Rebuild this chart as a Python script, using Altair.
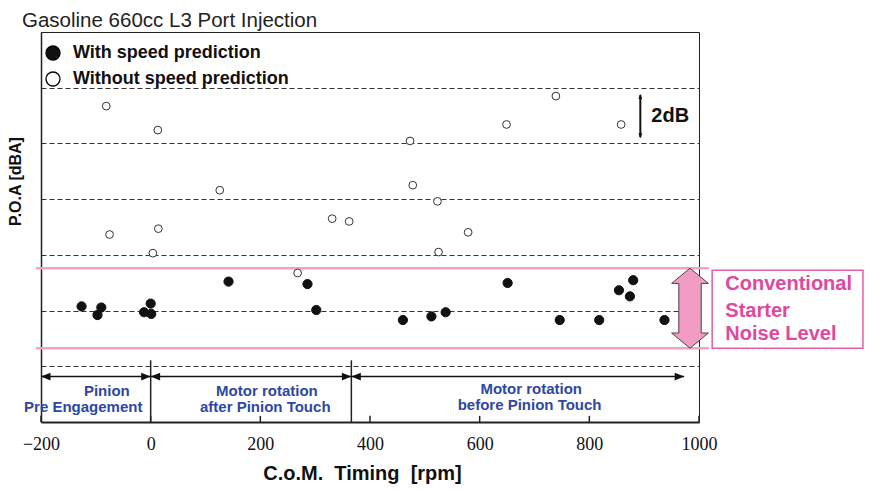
import altair as alt
import pandas as pd

# ---------------- data ----------------
series_names = ["With speed prediction", "Without speed prediction"]

with_x = [-126, -97, -90, -12, 0, 1, 142, 286, 302, 460, 512, 538, 651, 746, 818, 854, 880, 874, 937]
with_y = [2.15, 1.84, 2.11, 1.94, 2.25, 1.88, 3.04, 2.95, 2.02, 1.66, 1.79, 1.94, 2.99, 1.66, 1.66, 2.73, 3.09, 2.51, 1.66]

without_x = [-81, 13, 126, -75, 14, 4, 268, 331, 362, 473, 478, 523, 579, 525, 649, 739, 858]
without_y = [9.34, 8.48, 6.32, 4.73, 4.94, 4.06, 3.35, 5.30, 5.20, 8.09, 6.50, 5.92, 4.81, 4.10, 8.68, 9.70, 8.68]

x_ticks = [-200, 0, 200, 400, 600, 800, 1000]
grid_levels = [0, 2, 4, 6, 8, 10]
band_levels = [0.65, 3.52]            # conventional starter noise band
phase_bounds = [-200, 0, 366, 973]    # phase boundaries (rpm)
phase_top = ["Pinion", "Motor rotation", "Motor rotation"]
phase_bottom = ["Pre Engagement", "after Pinion Touch", "before Pinion Touch"]
phase_top_x = [-80, 212, 694]
phase_bottom_x = [-123, 209, 691]
phase_top_y = [-0.90, -0.90, -0.81]
phase_bottom_y = [-1.47, -1.47, -1.38]
band_text = ["Conventional", " Starter", "Noise Level"]
band_text_x = [1048, 1048, 1048]
band_text_y = [2.94, 1.98, 1.15]

# ---------------- styling ----------------
SANS = "Liberation Sans"
SERIF = "Liberation Serif"
PINK_LINE = "#F3A2C7"
PINK_FILL = "#F29CC3"
PINK_TEXT = "#E0489E"
BLUE = "#2D48A2"

xs = alt.Scale(domain=[-200, 1000], nice=False, zero=False)
ys = alt.Scale(domain=[-2, 12], nice=False, zero=False)

x_axis = alt.Axis(values=x_ticks, tickSize=0, labelPadding=13, labelFont=SERIF,
                  labelFontSize=18, labelColor="#111", domainColor="#222",
                  domainWidth=2, grid=False, format="d", labelFlush=False,
                  title="C.o.M.\u00a0 Timing\u00a0 [rpm]", titleFont=SANS,
                  titleFontSize=20, titleFontWeight="bold", titleColor="#111",
                  titleX=321, titleY=57, titleBaseline="alphabetic", titleAlign="center")
y_axis = alt.Axis(values=grid_levels, labels=False, ticks=False, domain=True,
                  domainColor="#222", domainWidth=1.5, grid=True, gridDash=[5, 3],
                  gridColor="#333", gridWidth=1,
                  title="P.O.A [dBA]", titleFont=SANS, titleFontSize=16,
                  titleFontWeight="bold", titleColor="#111", titleX=-26, titleY=149,
                  titleAngle=270, titleBaseline="middle", titleAlign="center")


def X(field="x"):
    return alt.X(f"{field}:Q", scale=xs, axis=x_axis)


def Y(field="y"):
    return alt.Y(f"{field}:Q", scale=ys, axis=y_axis)


fill_enc = alt.Fill(
    "series:N",
    scale=alt.Scale(domain=series_names, range=["#111", "white"]),
    legend=alt.Legend(title=None, orient="none", legendX=3, legendY=12,
                      symbolSize=196, symbolType="circle",
                      symbolStrokeColor="black", symbolStrokeWidth=1.3,
                      labelFont=SANS, labelFontSize=18, labelFontWeight="bold",
                      labelColor="#111", labelOffset=11, labelLimit=0,
                      rowPadding=6, padding=0),
)

# scatter: one layer per series (shared fill scale -> one legend)
df_with = pd.DataFrame({"x": with_x, "y": with_y, "series": series_names[0]})
df_without = pd.DataFrame({"x": without_x, "y": without_y, "series": series_names[1]})

pts_with = alt.Chart(df_with).mark_point(filled=True, stroke="#111", strokeWidth=1,
                                         size=85, opacity=1).encode(x=X(), y=Y(), fill=fill_enc)
pts_without = alt.Chart(df_without).mark_point(filled=True, stroke="#333", strokeWidth=1,
                                               size=60, opacity=1).encode(x=X(), y=Y(), fill=fill_enc)

# pink band lines
band_df = pd.DataFrame({"x": [-209] * 2, "x2": [1018] * 2, "y": band_levels})
band = alt.Chart(band_df).mark_rule(color=PINK_LINE, strokeWidth=2.6).encode(
    x=X(), x2="x2:Q", y=Y())

# pink double arrow
darrow_path = ("M0,-1L0.46,-0.62L0.28,-0.62L0.28,0.62L0.46,0.62L0,1"
               "L-0.46,0.62L-0.28,0.62L-0.28,-0.62L-0.46,-0.62Z")
darrow_df = pd.DataFrame({"x": [983.6], "y": [(band_levels[0] + band_levels[1]) / 2]})
darrow = alt.Chart(darrow_df).mark_point(shape=darrow_path, size=6400, filled=True,
                                         fill=PINK_FILL, stroke="#444", strokeWidth=1,
                                         opacity=1).encode(x=X(), y=Y())

# pink text box
box_df = pd.DataFrame({"x": [1024], "x2": [1299], "y": [band_levels[0]], "y2": [3.45]})
box = alt.Chart(box_df).mark_rect(fill="white", stroke="#E35DA8", strokeWidth=1.5).encode(
    x=X(), x2="x2:Q", y=Y(), y2="y2:Q")

btxt_df = pd.DataFrame({"x": band_text_x, "y": band_text_y, "t": band_text})
btxt = alt.Chart(btxt_df).mark_text(align="left", baseline="middle", font=SANS, fontSize=20,
                                    fontWeight="bold", color=PINK_TEXT).encode(
    x=X(), y=Y(), text="t:N")

# 2dB arrow
db_df = pd.DataFrame({"x": [893], "y": [8.22], "y2": [9.74]})
db_rule = alt.Chart(db_df).mark_rule(color="#111", strokeWidth=2).encode(x=X(), y=Y(), y2="y2:Q")
up_head = "M0,0L-0.75,2L0.75,2Z"
down_head = "M0,0L-0.75,-2L0.75,-2Z"
db_up = alt.Chart(pd.DataFrame({"x": [893], "y": [9.77]})).mark_point(
    shape=up_head, size=25, filled=True, color="#111", opacity=1).encode(x=X(), y=Y())
db_down = alt.Chart(pd.DataFrame({"x": [893], "y": [8.19]})).mark_point(
    shape=down_head, size=25, filled=True, color="#111", opacity=1).encode(x=X(), y=Y())
db_text = alt.Chart(pd.DataFrame({"x": [913], "y": [9.0], "t": ["2dB"]})).mark_text(
    align="left", baseline="middle", font=SANS, fontSize=20, fontWeight="bold",
    color="#111").encode(x=X(), y=Y(), text="t:N")

# phase separators and arrows
sep_df = pd.DataFrame({"x": phase_bounds[1:3], "y": [-2, -2], "y2": [0.215, 0.215]})
seps = alt.Chart(sep_df).mark_rule(color="#222", strokeWidth=1.5).encode(
    x=X(), y=Y(), y2="y2:Q")

ARROW_Y = -0.37
arr_df = pd.DataFrame({"x": phase_bounds[:-1], "x2": phase_bounds[1:], "y": [ARROW_Y] * 3})
arrs = alt.Chart(arr_df).mark_rule(color="#111", strokeWidth=1.5).encode(
    x=X(), x2="x2:Q", y=Y())
left_head = "M0,0L2,-0.8L2,0.8Z"
right_head = "M0,0L-2,-0.8L-2,0.8Z"
lheads = alt.Chart(pd.DataFrame({"x": phase_bounds[:-1], "y": [ARROW_Y] * 3})).mark_point(
    shape=left_head, size=90, filled=True, color="#111", opacity=1).encode(x=X(), y=Y())
rheads = alt.Chart(pd.DataFrame({"x": phase_bounds[1:], "y": [ARROW_Y] * 3})).mark_point(
    shape=right_head, size=90, filled=True, color="#111", opacity=1).encode(x=X(), y=Y())

ptop = alt.Chart(pd.DataFrame({"x": phase_top_x, "y": phase_top_y, "t": phase_top})).mark_text(
    align="center", baseline="middle", font=SANS, fontSize=15, fontWeight="bold",
    color=BLUE).encode(x=X(), y=Y(), text="t:N")
pbot = alt.Chart(pd.DataFrame({"x": phase_bottom_x, "y": phase_bottom_y, "t": phase_bottom})).mark_text(
    align="center", baseline="middle", font=SANS, fontSize=15, fontWeight="bold",
    color=BLUE).encode(x=X(), y=Y(), text="t:N")

# inward x ticks
tick_df = pd.DataFrame({"x": x_ticks, "y": [-2] * len(x_ticks), "y2": [-1.78] * len(x_ticks)})
ticks = alt.Chart(tick_df).mark_rule(color="#222", strokeWidth=1.5).encode(
    x=X(), y=Y(), y2="y2:Q")

# title text
title = alt.Chart(pd.DataFrame({"t": ["Gasoline 660cc L3 Port Injection"]})).mark_text(
    align="left", baseline="alphabetic", font=SANS, fontSize=20.5, color="#222").encode(
    x=alt.value(-19), y=alt.value(-5), text="t:N")

chart = alt.layer(
    band, box, darrow, btxt, db_rule, db_up, db_down, db_text,
    seps, arrs, lheads, rheads, ptop, pbot, ticks, pts_with, pts_without, title,
).properties(
    width=658, height=390,
    padding={"left": 33, "top": 24, "right": 166, "bottom": 62},
    autosize=alt.AutoSizeParams(type="none"),
).configure_view(stroke="#222", strokeWidth=1)

chart.save("out.html", embed_options={"renderer": "svg", "actions": False})
